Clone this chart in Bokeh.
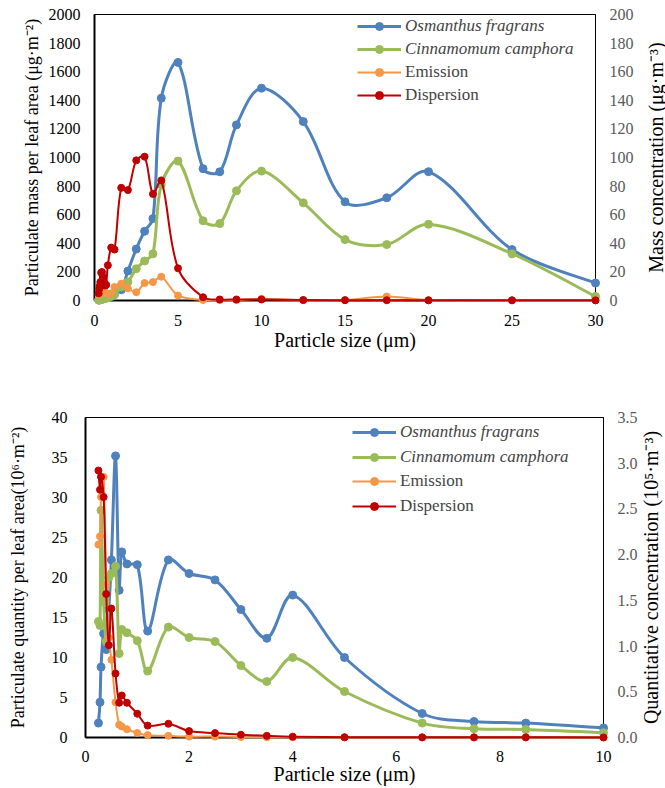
import math
import numpy as np
from bokeh.plotting import figure
from bokeh.models import (Range1d, LinearAxis, Legend, LegendItem, FixedTicker,
                          NumeralTickFormatter)
from bokeh.core.properties import value
from bokeh.embed import file_html
from bokeh.resources import INLINE

# ---------------- data: top chart (mass) ----------------
size_top = [0.25, 0.28, 0.30, 0.35, 0.40, 0.45, 0.50, 0.58, 0.65, 0.70, 0.80, 1.0, 1.2, 1.6,
            2.0, 2.5, 3.0, 3.5, 4.0, 5.0, 6.5, 7.5, 8.5, 10, 12.5, 15, 17.5, 20, 25, 30]
osm_mass = [5, 6, 8, 10, 12, 14, 16, 18, 20, 22, 28, 38, 50, 75,
            206, 360, 484, 573, 1415, 1665, 922, 900, 1228, 1485, 1251, 690, 718, 901, 356, 122]
cin_mass = [2, 3, 4, 5, 6, 8, 10, 12, 14, 16, 20, 28, 40, 95,
            130, 222, 276, 327, 810, 975, 558, 538, 767, 905, 683, 426, 391, 533, 327, 28]
emi_mass = [4, 5, 6, 7, 8, 7.5, 8.2, 6, 5.5, 5, 4.5, 5, 9.4, 11.7,
            8.5, 5.8, 12.2, 12.9, 16.6, 3.5, 0.3, 0.3, 0.3, 1.2, 0.3, 0.3, 2.8, 0.3, 0.2, 0.2]
dis_mass = [5, 8, 10, 12.9, 19.5, 19.9, 16.4, 12.5, 10.5, 11, 24.6, 37, 35.6, 78.8,
            77.2, 98, 100.6, 74.5, 84, 22.5, 2.3, 0.7, 0.7, 0.7, 0.3, 0.2, 0.2, 0.1, 0.1, 0.1]

# ---------------- data: bottom chart (quantity) ----------------
size_bot = [0.25, 0.28, 0.30, 0.35, 0.40, 0.45, 0.50, 0.58, 0.65, 0.70, 0.80, 1.0, 1.2, 1.6,
            2.0, 2.5, 3.0, 3.5, 4.0, 5.0, 6.5, 7.5, 8.5, 10]
osm_num = [1.8, 4.4, 8.8, 13.0, 11.0, 16.0, 22.2, 35.2, 18.4, 23.2, 21.7, 21.6, 13.3, 22.2,
           20.5, 19.7, 16.0, 12.4, 17.8, 10.0, 3.0, 2.0, 1.8, 1.2]
cin_num = [14.5, 14.0, 28.4, 17.0, 12.0, 20.0, 20.5, 21.4, 10.5, 13.5, 13.1, 12.1, 8.3, 13.8,
           12.5, 12.0, 9.0, 7.0, 10.0, 5.75, 1.8, 1.1, 1.0, 0.6]
emi_num = [2.11, 2.20, 2.63, 2.85, 1.67, 1.09, 0.85, 0.385, 0.14, 0.12, 0.09, 0.05, 0.026, 0.018,
           0.01, 0.01, 0.005, 0.003, 0.002, 0.001, 0.0, 0.0, 0.0, 0.0]
dis_num = [2.92, 2.71, 2.85, 2.63, 1.57, 1.01, 1.41, 0.70, 0.38, 0.46, 0.38, 0.26, 0.13, 0.15,
           0.07, 0.048, 0.03, 0.018, 0.009, 0.003, 0.002, 0.002, 0.002, 0.001]

labels_species = ["Osmanthus fragrans", "Cinnamomum camphora"]
labels_air = ["Emission", "Dispersion"]

BLUE = "#4F81BD"
GREEN = "#9BBB59"
ORANGE = "#F79646"
RED = "#C00000"
FONT = "Liberation Serif"


def bez(x, y, sx, sy):
    """Excel-like smoothing: Bezier control points with chord-length weighted tangents
    (weights measured in pixel space, sx/sy = pixels per data unit)."""
    x = np.asarray(x, float)
    y = np.asarray(y, float)
    n = len(x)
    d = np.hypot(np.diff(x) * sx, np.diff(y) * sy)
    d = np.maximum(d, 1e-9)
    tx = np.empty(n)
    ty = np.empty(n)
    tx[1:-1] = x[2:] - x[:-2]
    ty[1:-1] = y[2:] - y[:-2]
    tx[0], ty[0] = x[1] - x[0], y[1] - y[0]
    tx[-1], ty[-1] = x[-1] - x[-2], y[-1] - y[-2]
    wa = np.empty(n - 1)
    wb = np.empty(n - 1)
    wa[0] = 0.5
    wa[1:] = d[1:] / (d[:-1] + d[1:])
    wb[-1] = 0.5
    wb[:-1] = d[:-1] / (d[:-1] + d[1:])
    cx0 = x[:-1] + tx[:-1] * wa / 3.0
    cy0 = y[:-1] + ty[:-1] * wa / 3.0
    cx1 = x[1:] - tx[1:] * wb / 3.0
    cy1 = y[1:] - ty[1:] * wb / 3.0
    return dict(x0=x[:-1], y0=y[:-1], x1=x[1:], y1=y[1:], cx0=cx0, cy0=cy0, cx1=cx1, cy1=cy1)


def series(p, x, y, color, lw, ms, sx, sy, rng="default"):
    b = bez(x, y, sx, sy)
    p.bezier(**b, line_color=color, line_width=lw, line_cap="round",
             y_range_name=rng, level="overlay")
    sc = p.scatter(x, y, size=ms, fill_color=color, line_color=color,
                   y_range_name=rng, level="overlay")
    # single-point line: draws nothing in the plot, only supplies the legend line glyph
    leg_line = p.line(x[:1], y[:1], line_color=color, line_width=lw, y_range_name=rng)
    return [leg_line, sc]


def style_axis(ax, color="#000000"):
    ax.major_label_text_font = FONT
    ax.major_label_text_font_size = "16px"
    ax.major_label_text_color = color
    ax.axis_label_text_font = FONT
    ax.axis_label_text_font_style = "normal"
    ax.axis_label_text_color = "#000000"
    ax.major_tick_line_color = None
    ax.minor_tick_line_color = None
    ax.major_tick_out = 0
    ax.major_tick_in = 0


def right_title(p, text, rng, offset):
    # vertical title reading bottom-to-top, to the right of the secondary axis
    r = p.extra_y_ranges[rng]
    p.text(x=[p.x_range.end], y=[(r.start + r.end) / 2.0], text=[text],
           x_offset=offset, angle=math.pi / 2, text_align="center", text_baseline="middle",
           text_font=value(FONT), text_font_size="20px", text_color="#000000",
           y_range_name=rng, level="overlay")


def make_legends(p, rs, x, y_top_vy, y_bot_vy, spacing):
    common = dict(label_text_font=FONT, label_text_font_size="17px",
                  glyph_width=44, glyph_height=20, label_height=20, spacing=spacing,
                  padding=0, margin=0, border_line_color=None, background_fill_alpha=0,
                  label_standoff=4)
    l1 = Legend(items=[LegendItem(label=labels_species[0], renderers=rs[0]),
                       LegendItem(label=labels_species[1], renderers=rs[1])],
                location=(x, y_top_vy), label_text_font_style="italic", **common)
    l2 = Legend(items=[LegendItem(label=labels_air[0], renderers=rs[2]),
                       LegendItem(label=labels_air[1], renderers=rs[3])],
                location=(x, y_bot_vy), label_text_font_style="normal", **common)
    p.add_layout(l1)
    p.add_layout(l2)


def base_fig(width, height, xr, yr, mbl, mbr, mbt, mbb):
    p = figure(width=width, height=height, output_backend="svg", toolbar_location=None,
               x_range=Range1d(*xr), y_range=Range1d(*yr),
               min_border_left=mbl, min_border_right=mbr,
               min_border_top=mbt, min_border_bottom=mbb)
    p.xgrid.visible = False
    p.ygrid.visible = False
    p.outline_line_color = "#000000"
    p.outline_line_width = 1
    p.background_fill_color = "white"
    p.border_fill_color = "white"
    return p


# ================= TOP =================
p1 = base_fig(665, 390, (0, 30), (0, 2000), 94, 70, 14, 90)
p1.extra_y_ranges = {"right": Range1d(0, 200)}
p1.xaxis.ticker = FixedTicker(ticks=[0, 5, 10, 15, 20, 25, 30])
p1.yaxis.ticker = FixedTicker(ticks=list(range(0, 2001, 200)))
ax_r1 = LinearAxis(y_range_name="right", ticker=FixedTicker(ticks=list(range(0, 201, 20))))
p1.add_layout(ax_r1, "right")

for ax in p1.xaxis:
    style_axis(ax)
    ax.axis_label = "Particle size (μm)"
    ax.axis_label_text_font_size = "20px"
    ax.major_label_standoff = 14
    ax.axis_label_standoff = 0
    ax.axis_line_width = 2
for ax in p1.yaxis:
    if ax is ax_r1:
        continue
    style_axis(ax)
    ax.axis_label = "Particulate mass per leaf area (μg·m⁻²)"
    ax.axis_label_text_font_size = "18px"
    ax.major_label_standoff = 14
    ax.axis_label_standoff = 4
    ax.axis_line_width = 2
style_axis(ax_r1, color="#595959")
ax_r1.major_label_standoff = 14
ax_r1.axis_line_color = "#000000"

SX1, SY1L, SY1R = 501 / 30, 286 / 2000, 286 / 200
rs1 = [series(p1, size_top, osm_mass, BLUE, 3, 8, SX1, SY1L),
       series(p1, size_top, cin_mass, GREEN, 3, 8, SX1, SY1L),
       series(p1, size_top, emi_mass, ORANGE, 2, 7, SX1, SY1R, "right"),
       series(p1, size_top, dis_mass, RED, 2, 7, SX1, SY1R, "right")]
make_legends(p1, rs1, 263, 241, 195, 3)
right_title(p1, "Mass concentration (μg·m⁻³)", "right", 60)

# ================= BOTTOM =================
p2 = base_fig(665, 398, (0, 10), (0, 40), 85, 62, 27, 51)
p2.extra_y_ranges = {"right": Range1d(0, 3.5)}
p2.xaxis.ticker = FixedTicker(ticks=[0, 2, 4, 6, 8, 10])
p2.yaxis.ticker = FixedTicker(ticks=list(range(0, 41, 5)))
ax_r2 = LinearAxis(y_range_name="right",
                   ticker=FixedTicker(ticks=[0, 0.5, 1.0, 1.5, 2.0, 2.5, 3.0, 3.5]),
                   formatter=NumeralTickFormatter(format="0.0"))
p2.add_layout(ax_r2, "right")

for ax in p2.xaxis:
    style_axis(ax)
    ax.axis_label = "Particle size (μm)"
    ax.axis_label_text_font_size = "20px"
    ax.major_label_standoff = 13
    ax.axis_label_standoff = -2
    ax.axis_line_width = 2
for ax in p2.yaxis:
    if ax is ax_r2:
        continue
    style_axis(ax)
    ax.axis_label = "Particulate quantity per leaf area(10⁶·m⁻²)"
    ax.axis_label_text_font_size = "18px"
    ax.major_label_standoff = 18
    ax.axis_label_standoff = 21
    ax.axis_line_width = 2
style_axis(ax_r2, color="#595959")
ax_r2.major_label_standoff = 14
ax_r2.axis_line_color = "#000000"

SX2, SY2L, SY2R = 518 / 10, 320 / 40, 320 / 3.5
rs2 = [series(p2, size_bot, osm_num, BLUE, 3, 8, SX2, SY2L),
       series(p2, size_bot, cin_num, GREEN, 3, 8, SX2, SY2L),
       series(p2, size_bot, emi_num, ORANGE, 2, 7, SX2, SY2R, "right"),
       series(p2, size_bot, dis_num, RED, 2, 7, SX2, SY2R, "right")]
make_legends(p2, rs2, 267, 270, 221, 5)
right_title(p2, "Quantitative concentration (10⁵·m⁻³)", "right", 47)

open("out.html", "w").write(file_html([p1, p2], INLINE))
